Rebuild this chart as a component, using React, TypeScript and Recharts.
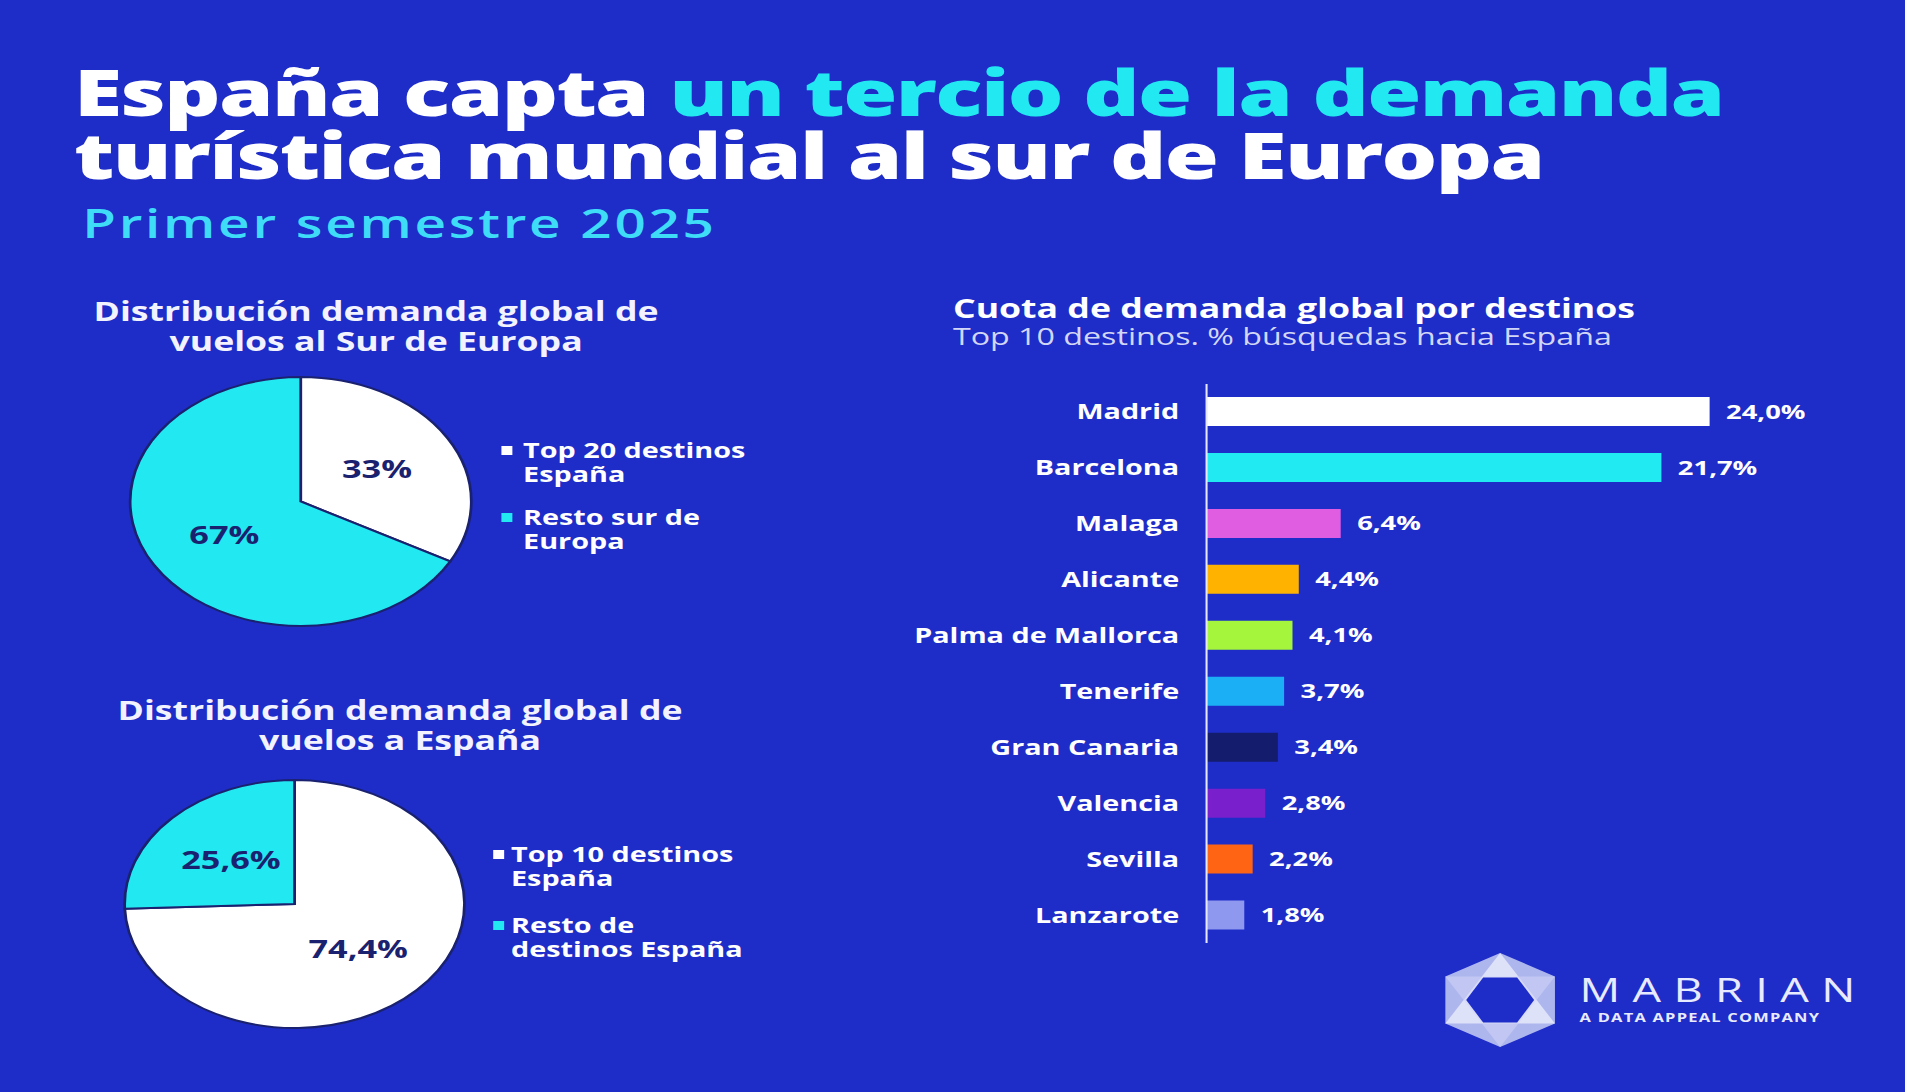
import React from 'react';
import { PieChart, Pie, Cell, BarChart, Bar, XAxis, YAxis, LabelList } from 'recharts';

// the original graphic is stretched sideways, so everything is laid out
// narrow and then widened with one scaleX
const SX = 1.37;
const FONT = '"Open Sans", "DejaVu Sans", sans-serif';

const BG = '#1e2cc8';
const CYAN = '#22e8f2';
const NAVY = '#1a2270';

const surValues = [33, 67];
const surPct = ['33%', '67%'];
const surLegend = [['Top 20 destinos', 'España'], ['Resto sur de', 'Europa']];

const espValues = [74.4, 25.6];
const espPct = ['74,4%', '25,6%'];
const espLegend = [['Top 10 destinos', 'España'], ['Resto de', 'destinos España']];

const pieColors = ['#ffffff', CYAN];

const destinos = ['Madrid', 'Barcelona', 'Malaga', 'Alicante', 'Palma de Mallorca', 'Tenerife', 'Gran Canaria', 'Valencia', 'Sevilla', 'Lanzarote'];
const cuota = [24.0, 21.7, 6.4, 4.4, 4.1, 3.7, 3.4, 2.8, 2.2, 1.8];
const barColors = ['#ffffff', '#22eaf2', '#e05ce0', '#ffb300', '#a4f53c', '#1bb0f5', '#141c6e', '#7a1fcc', '#ff6414', '#8d98ee'];

const surData = surValues.map((value, i) => ({ name: surLegend[i].join(' '), value, pct: surPct[i] }));
const espData = espValues.map((value, i) => ({ name: espLegend[i].join(' '), value, pct: espPct[i] }));
const barData = destinos.map((name, i) => ({ name, value: cuota[i] }));

const RAD = Math.PI / 180;

const pieLabel = (p: any) => {
  const r = p.outerRadius * 0.52;
  const x = p.cx + r * Math.cos(-p.midAngle * RAD);
  const y = p.cy + r * Math.sin(-p.midAngle * RAD);
  const txt = p.pct ?? p.payload?.pct;
  return (
    <text x={x} y={y} fill={NAVY} textAnchor="middle" dominantBaseline="central"
      fontSize={25} fontWeight={700} fontFamily={FONT}>
      {txt}
    </text>
  );
};

function Donut({ data, left, top, r }: { data: any[]; left: number; top: number; r: number }) {
  const size = r * 2 + 10;
  return (
    <div style={{ position: 'absolute', left: left - size / 2, top: top - size / 2 }}>
      <PieChart width={size} height={size} margin={{ top: 0, right: 0, bottom: 0, left: 0 }}>
        <Pie data={data} dataKey="value" cx={size / 2} cy={size / 2} outerRadius={r}
          startAngle={90} endAngle={-270} stroke={NAVY} strokeWidth={2}
          labelLine={false} label={pieLabel} isAnimationActive={false}>
          {data.map((d, i) => <Cell key={d.name} fill={pieColors[i]} />)}
        </Pie>
      </PieChart>
    </div>
  );
}

function Legend({ items, left, top, gap, textLeft }: { items: string[][]; left: number; top: number; gap: number; textLeft: number }) {
  return (
    <>
      {items.map((lines, i) => (
        <div key={i} style={{ position: 'absolute', left, top: top + i * gap }}>
          <div style={{ position: 'absolute', left: 0, top: 8, width: 8, height: 9, background: pieColors[i] }} />
          <div style={{ position: 'absolute', left: textLeft - left, top: 0, color: '#fff', fontWeight: 700, fontSize: 21, lineHeight: '24px', whiteSpace: 'nowrap' }}>
            {lines.map(l => <div key={l}>{l}</div>)}
          </div>
        </div>
      ))}
    </>
  );
}

function Heading({ lines, cx, top }: { lines: string[]; cx: number; top: number }) {
  return (
    <div style={{ position: 'absolute', left: cx - 300, width: 600, top, textAlign: 'center', color: '#f2f3ff', fontWeight: 700, fontSize: 26, lineHeight: '30px', whiteSpace: 'nowrap' }}>
      {lines.map(l => <div key={l}>{l}</div>)}
    </div>
  );
}

function Logo() {
  const cx = 1095, cy = 1000;
  const hx = 40, hy = 47;
  const outer = [[0, -hy], [hx, -hy / 2], [hx, hy / 2], [0, hy], [-hx, hy / 2], [-hx, -hy / 2]];
  const up = [[0, -hy], [hx, hy / 2], [-hx, hy / 2]];
  const down = [[0, hy], [-hx, -hy / 2], [hx, -hy / 2]];
  const inner = [[-24.8, 0], [-12.4, -22.5], [12.4, -22.5], [24.8, 0], [12.4, 22.5], [-12.4, 22.5]];
  const pts = (a: number[][]) => a.map(([x, y]) => `${cx + x},${cy + y}`).join(' ');
  return (
    <>
      <svg style={{ position: 'absolute', left: 0, top: 0 }} width={1391} height={1092}>
        <polygon points={pts(outer)} fill="#aeb6ee" />
        <polygon points={pts(up)} fill="#eef0fc" opacity={0.75} />
        <polygon points={pts(down)} fill="#d2d6f6" opacity={0.55} />
        <polygon points={pts(inner)} fill={BG} />
      </svg>
      <div style={{ position: 'absolute', left: 1153, top: 973, color: '#e8eaff', fontSize: 33, fontWeight: 400, lineHeight: 1, letterSpacing: 9, whiteSpace: 'nowrap' }}>MABRIAN</div>
      <div style={{ position: 'absolute', left: 1153, top: 1012, color: '#e8eaff', fontSize: 12, fontWeight: 700, lineHeight: 1, letterSpacing: 0.9, whiteSpace: 'nowrap' }}>A DATA APPEAL COMPANY</div>
    </>
  );
}

export default function App() {
  const fmt = (v: any) => `${Number(v).toFixed(1).replace('.', ',')}%`;
  return (
    <div style={{ position: 'absolute', left: 0, top: 0, width: 1905, height: 1092, background: BG, overflow: 'hidden', fontFamily: FONT }}>
      <div style={{ position: 'absolute', left: 0, top: 0, width: 1905 / SX, height: 1092, transform: `scaleX(${SX})`, transformOrigin: '0 0' }}>
        <div style={{ position: 'absolute', left: 54, top: 60, fontSize: 64, fontWeight: 800, lineHeight: '63px', color: '#fff', letterSpacing: -1.2, whiteSpace: 'nowrap' }}>
          <div>España capta <span style={{ color: CYAN }}>un tercio de la demanda</span></div>
          <div>turística mundial al sur de Europa</div>
        </div>
        <div style={{ position: 'absolute', left: 60, top: 203, fontSize: 40, fontWeight: 600, lineHeight: '40px', color: '#3fdcf8', letterSpacing: 2, whiteSpace: 'nowrap' }}>
          Primer semestre 2025
        </div>

        <Heading lines={['Distribución demanda global de', 'vuelos al Sur de Europa']} cx={274.5} top={296} />
        <Donut data={surData} left={219.3} top={501.5} r={124.5} />
        <Legend items={surLegend} left={365.7} top={438} gap={67} textLeft={381.8} />

        <Heading lines={['Distribución demanda global de', 'vuelos a España']} cx={292} top={695} />
        <Donut data={espData} left={214.6} top={904} r={124} />
        <Legend items={espLegend} left={359.9} top={842} gap={71} textLeft={373} />

        <div style={{ position: 'absolute', left: 695.6, top: 295, color: '#fff', fontSize: 26, fontWeight: 700, lineHeight: 1, whiteSpace: 'nowrap' }}>
          Cuota de demanda global por destinos
        </div>
        <div style={{ position: 'absolute', left: 695.6, top: 325, color: '#d3d7f7', fontSize: 23.5, fontWeight: 400, lineHeight: 1, whiteSpace: 'nowrap' }}>
          Top 10 destinos. % búsquedas hacia España
        </div>

        <div style={{ position: 'absolute', left: 560, top: 383.5 }}>
          <BarChart width={778.5} height={559.5} data={barData} layout="vertical"
            margin={{ top: 0, right: 60, bottom: 0, left: 0 }} barSize={29}>
            <XAxis type="number" domain={[0, 26]} hide />
            <YAxis type="category" dataKey="name" width={320.7} axisLine={{ stroke: '#e6e8ff', strokeWidth: 1.5 }}
              tickLine={false} tickSize={0} tickMargin={20} interval={0}
              tick={{ fill: '#fff', fontSize: 21, fontWeight: 700, fontFamily: FONT }} />
            <Bar dataKey="value" isAnimationActive={false}>
              {barData.map((d, i) => <Cell key={d.name} fill={barColors[i]} />)}
              <LabelList dataKey="value" position="right" offset={12} formatter={fmt}
                fill="#fff" fontSize={20} fontWeight={700} fontFamily={FONT} />
            </Bar>
          </BarChart>
        </div>

        <Logo />
      </div>
    </div>
  );
}
